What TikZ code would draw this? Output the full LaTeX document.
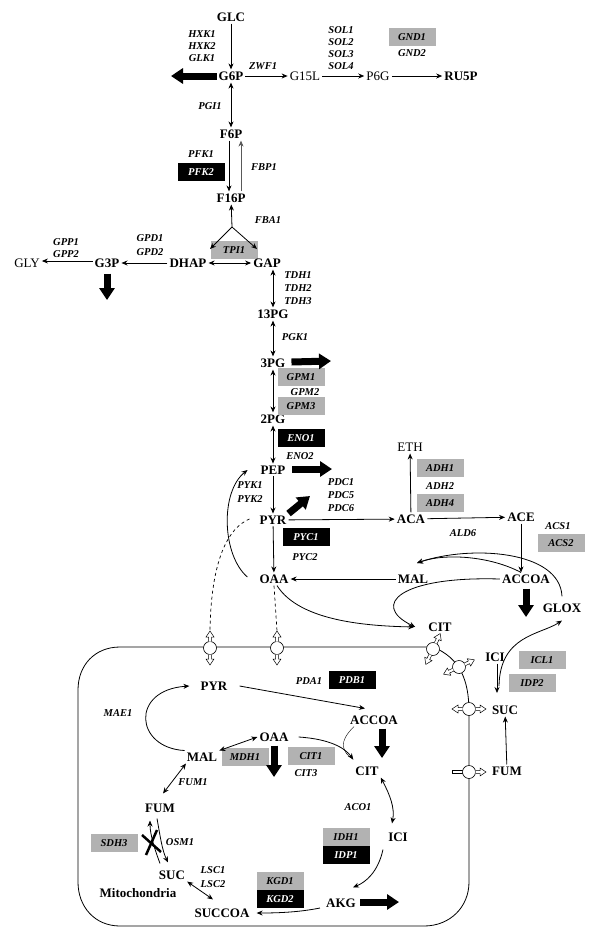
\documentclass[tikz,border=0pt]{standalone}
\usepackage{fontspec}
\setmainfont{Liberation Serif}
\usepackage{tikz}
\usetikzlibrary{arrows.meta,calc}

\tikzset{
    met/.style={font=\fontsize{13}{13}\selectfont\bfseries, inner sep=2pt},
    metplain/.style={font=\fontsize{13}{13}\selectfont, inner sep=2pt},
    gene/.style={font=\fontsize{10.5}{10.5}\selectfont\bfseries\itshape, inner sep=1pt},
    genegrey/.style={gene, fill=black!30, minimum width=47pt, minimum height=18pt},
    geneblack/.style={gene, fill=black, text=white, minimum width=47pt, minimum height=18pt},
    rx/.style={-{Stealth[length=6pt, width=5pt]}, line width=0.8pt},
    rev/.style={{Stealth[length=6pt, width=5pt]}-{Stealth[length=6pt, width=5pt]}, line width=0.8pt},
    flux/.style={line width=7pt, -{Triangle[length=12pt, width=15pt]}},
    pics/porter/.style={code={
        \draw [fill=white, line width=0.6pt] (0,0) circle (6.5);
        \foreach \ang in {0,180}
            \draw [fill=white, line width=0.5pt, rotate=\ang] (6.5,-1.5) -- (11,-1.5) -- (11,-4) -- (17,0) -- (11,4) -- (11,1.5) -- (6.5,1.5);
    }},
    pics/porterbar/.style={code={
        \draw [fill=white, line width=0.5pt] (-6,-1.5) rectangle (-17,1.5);
        \draw [fill=white, line width=0.6pt] (0,0) circle (6.5);
        \draw [fill=white, line width=0.5pt] (6.5,-1.5) -- (11,-1.5) -- (11,-4) -- (17,0) -- (11,4) -- (11,1.5) -- (6.5,1.5);
    }}
}

\begin{document}
\begin{tikzpicture}[x=1pt, y=-1pt]
    \useasboundingbox (0,0) rectangle (600,943);

    % Hexose and pentose phosphate
    \node [met] (glc) at (231,17) {GLC};
    \node [met] (g6p) at (231,76) {G6P};
    \node [metplain] (g15l) at (305,76) {G15L};
    \node [metplain] (p6g) at (378,76) {P6G};
    \node [met] (ru5p) at (461,76) {RU5P};
    \node [gene] (hxk1) at (202,34) {HXK1};
    \node [gene] (hxk2) at (202,46) {HXK2};
    \node [gene] (glk1) at (202,58) {GLK1};
    \node [gene] (zwf1) at (263,66) {ZWF1};
    \node [gene] (sol1) at (341,30) {SOL1};
    \node [gene] (sol2) at (341,42) {SOL2};
    \node [gene] (sol3) at (341,54) {SOL3};
    \node [gene] (sol4) at (341,66) {SOL4};
    \node [genegrey] (gnd1) at (412,37) {GND1};
    \node [gene] (gnd2) at (412,53) {GND2};
    \coordinate (g6pout) at (171,76);
    \draw [rx] (glc) -- (g6p);
    \draw [flux] (g6p) -- (g6pout);
    \draw [rx] (g6p) -- (g15l);
    \draw [rx] (g15l) -- (p6g);
    \draw [rx] (p6g) -- (ru5p);

    % Upper glycolysis
    \node [met] (f6p) at (231,134) {F6P};
    \node [met] (f16p) at (231,198) {F16P};
    \node [gene] (pgi1) at (210,106) {PGI1};
    \node [gene] (pfk1) at (201,154) {PFK1};
    \node [geneblack] (pfk2) at (201,172) {PFK2};
    \node [gene] (fbp1) at (264,167) {FBP1};
    \draw [rev] (g6p) -- (f6p);
    \draw [rx] ([shift={(-2,0)}]f6p.south) -- ([shift={(-2,0)}]f16p.north);
    \draw [rx, black!65] ([shift={(10,0)}]f16p.north) -- ([shift={(10,0)}]f6p.south);

    \node [gene] (fba1) at (268,220) {FBA1};
    \node [genegrey] (tpi1) at (234,250) {TPI1};
    \node [met] (dhap) at (188,263) {DHAP};
    \node [met] (gap) at (267,263) {GAP};
    \coordinate (fba) at (232,227);
    \coordinate (fbal) at (210,249);
    \coordinate (fbar) at (257,249);
    \draw [rx] (fba) -- (f16p);
    \draw [rx] (fba) -- (fbal);
    \draw [rx] (fba) -- (fbar);
    \draw [rev] (dhap) -- (gap);

    % Glycerol
    \node [met] (g3p) at (107,263) {G3P};
    \node [metplain] (gly) at (27,263) {GLY};
    \node [gene] (gpd1) at (150,238) {GPD1};
    \node [gene] (gpd2) at (150,252) {GPD2};
    \node [gene] (gpp1) at (66,242) {GPP1};
    \node [gene] (gpp2) at (66,254) {GPP2};
    \coordinate (g3pout) at (107,300);
    \draw [rx] (dhap) -- (g3p);
    \draw [rx] ([shift={(0,-2)}]g3p.west) -- ([shift={(0,-2)}]gly.east);
    \draw [flux] ([shift={(0,4)}]g3p.south) -- (g3pout);

    % Lower glycolysis
    \node [met] (pg13) at (273,314) {13PG};
    \node [met] (pg3) at (273,363) {3PG};
    \node [met] (pg2) at (273,419) {2PG};
    \node [met] (pep) at (273,470) {PEP};
    \node [met] (pyr) at (273,520) {PYR};
    \node [gene] (tdh1) at (298,275) {TDH1};
    \node [gene] (tdh2) at (298,288) {TDH2};
    \node [gene] (tdh3) at (298,301) {TDH3};
    \node [gene] (pgk1) at (295,337) {PGK1};
    \node [genegrey] (gpm1) at (301,377) {GPM1};
    \node [gene] (gpm2) at (305,392) {GPM2};
    \node [genegrey] (gpm3) at (301,406) {GPM3};
    \node [geneblack] (eno1) at (301,438) {ENO1};
    \node [gene] (eno2) at (300,456) {ENO2};
    \node [gene] (pyk1) at (250,485) {PYK1};
    \node [gene] (pyk2) at (250,499) {PYK2};
    \coordinate (pg3out) at (331,361);
    \coordinate (pepout) at (332,469);
    \coordinate (pyrout) at (310,496);
    \draw [rev] (pg13.north |- gap.south) -- (pg13);
    \draw [rev] (pg13) -- (pg3);
    \draw [rev] (pg3) -- (pg2);
    \draw [rev] (pg2) -- (pep);
    \draw [rx] (pep) -- (pyr);
    \draw [flux] ([shift={(4,-1)}]pg3.east) -- (pg3out);
    \draw [flux] ([shift={(5,-1)}]pep.east) -- (pepout);
    \draw [flux] (pyr.north east) -- (pyrout);

    % Fermentation
    \node [gene] (pdc1) at (341,482) {PDC1};
    \node [gene] (pdc5) at (341,495) {PDC5};
    \node [gene] (pdc6) at (341,508) {PDC6};
    \node [met] (aca) at (411,519) {ACA};
    \node [metplain] (eth) at (410,447) {ETH};
    \node [met] (ace) at (521,517) {ACE};
    \node [genegrey] (adh1) at (440,468) {ADH1};
    \node [gene] (adh2) at (440,486) {ADH2};
    \node [genegrey] (adh4) at (440,503) {ADH4};
    \node [gene] (ald6) at (463,533) {ALD6};
    \node [gene] (acs1) at (558,526) {ACS1};
    \node [genegrey] (acs2) at (561,543) {ACS2};
    \draw [rx] (pyr) -- (aca);
    \draw [rx] (aca) -- (eth);
    \draw [rx] (aca) -- (ace);

    % Cytosolic OAA, MAL and glyoxylate shunt
    \node [met] (accoa) at (526,579) {ACCOA};
    \node [met] (mal) at (413,579) {MAL};
    \node [met] (oaa) at (274,579) {OAA};
    \node [met] (glox) at (562,608) {GLOX};
    \node [met] (cit) at (440,627) {CIT};
    \node [geneblack] (pyc1) at (306,537) {PYC1};
    \node [gene] (pyc2) at (305,557) {PYC2};
    \coordinate (malin) at (417,563);
    \coordinate (accoaout) at (526,617);
    \draw [rx] (ace) -- (ace |- accoa.north);
    \draw [rx] (pyr) -- (oaa);
    \draw [rx] (mal) -- (oaa);
    \draw [rx] ([shift={(-10,-2)}]oaa.west) .. controls (222,555) and (220,492) .. ([shift={(-11,0)}]pep.west);
    \draw [rx] ([shift={(3,0)}]oaa.south) .. controls (300,622) and (370,626) .. ([shift={(-12,0)}]cit.west);
    \draw [rx] (accoa.west) .. controls (400,576) and (370,605) .. ([shift={(-11,0)}]cit.west);
    \draw [rx] ([shift={(-5,0)}]accoa.north) .. controls (490,556) and (445,553) .. (malin);
    \draw [rx] ([shift={(0,-5)}]glox.north) .. controls (560,550) and (470,545) .. (malin);
    \draw [flux] ([shift={(0,3)}]accoa.south) -- (accoaout);

    \node [met] (ici) at (495,657) {ICI};
    \node [met] (suc) at (505,710) {SUC};
    \node [met] (fum) at (507,771) {FUM};
    \node [genegrey] (icl1) at (542,660) {ICL1};
    \node [genegrey] (idp2) at (532,683) {IDP2};
    \coordinate (iclsplit) at (497,693);
    \coordinate (iclfork) at (499,686);
    \draw [rx] ([shift={(2,0)}]ici.south) -- (iclsplit);
    \draw [rx] (iclfork) .. controls (500,635) and (540,635) .. ([shift={(0,6)}]glox.south);
    \draw [rx] (fum) -- (suc);

    % Mitochondrial membrane
    \draw [line width=0.8pt] (433,647) -- (120,647) .. controls (95,647) and (78,665) .. (78,690) -- (78,882)
        .. controls (78,907) and (95,926) .. (120,926) -- (424,926) .. controls (450,926) and (469,907) .. (469,882)
        -- (469,712) .. controls (469,680) and (460,658) .. (433,647);
    \coordinate (porta) at (210,648);
    \coordinate (portb) at (277,648);
    \draw [dashed, line width=0.7pt] ([shift={(-8,-1)}]pyr.west) .. controls (228,528) and (211,560) .. ($(porta)+(0,-17)$);
    \draw [dashed, line width=0.7pt] (oaa.south) -- ($(portb)+(0,-17)$);
    \pic [rotate=90] at (porta) {porter};
    \pic [rotate=90] at (portb) {porter};
    \pic [rotate=65] at (433,649) {porter};
    \pic [rotate=25] at (459,667) {porter};
    \pic at (469,709) {porter};
    \pic at (469,772) {porterbar};

    % Mitochondria
    \node [met] (mpyr) at (214,686) {PYR};
    \node [met] (maccoa) at (374,720) {ACCOA};
    \node [met] (moaa) at (274,737) {OAA};
    \node [met] (mmal) at (202,757) {MAL};
    \node [met] (mcit) at (367,771) {CIT};
    \node [met] (mici) at (398,837) {ICI};
    \node [met] (makg) at (341,903) {AKG};
    \node [met] (msuccoa) at (222,913) {SUCCOA};
    \node [met] (msuc) at (172,875) {SUC};
    \node [met] (mfum) at (160,808) {FUM};
    \node [met] (mito) at (138,893) {Mitochondria};
    \node [gene] (mae1) at (118,713) {MAE1};
    \node [gene] (pda1) at (309,681) {PDA1};
    \node [geneblack] (pdb1) at (352,680) {PDB1};
    \node [genegrey] (mdh1) at (245,757) {MDH1};
    \node [genegrey] (cit1) at (311,756) {CIT1};
    \node [gene] (cit3) at (306,773) {CIT3};
    \node [gene] (fum1) at (193,782) {FUM1};
    \node [genegrey] (sdh3) at (114,843) {SDH3};
    \node [gene] (osm1) at (180,842) {OSM1};
    \node [gene] (lsc1) at (213,870) {LSC1};
    \node [gene] (lsc2) at (213,884) {LSC2};
    \node [gene] (aco1) at (358,807) {ACO1};
    \node [genegrey] (idh1) at (346,837) {IDH1};
    \node [geneblack] (idp1) at (346,855) {IDP1};
    \node [genegrey] (kgd1) at (280,881) {KGD1};
    \node [geneblack] (kgd2) at (280,899) {KGD2};
    \coordinate (moaaout) at (274,777);
    \coordinate (maccoaout) at (382,758);
    \coordinate (makgout) at (399,902);
    \coordinate (sdhx) at (152,843);

    \draw [rx] (mmal.north west) .. controls (135,748) and (130,690) .. ([shift={(-9,0)}]mpyr.west);
    \draw [rx] ([shift={(10,0)}]mpyr.east) -- ([shift={(-9,-5)}]maccoa.north);
    \draw [rev] (mmal.north east) -- (moaa.west);
    \draw [flux] ([shift={(0,2)}]moaa.south) -- (moaaout);
    \draw [flux] ([shift={(8,2)}]maccoa.south) -- (maccoaout);
    \draw [rx] ([shift={(8,0)}]moaa.east) .. controls (330,739) and (345,748) .. ([shift={(0,-5)}]mcit.north west);
    \draw ([shift={(-20,0)}]maccoa.south) .. controls (338,742) and (342,752) .. ([shift={(0,-5)}]mcit.north west);
    \draw [rev] (mcit.south east) .. controls (390,795) and (395,808) .. ([shift={(-6,-7)}]mici.north);
    \draw [rx] ([shift={(-15,6)}]mici.south) .. controls (378,872) and (366,882) .. ([shift={(12,-9)}]makg.north);
    \draw [flux] ([shift={(2,-1)}]makg.east) -- (makgout);
    \draw [rx] ([shift={(-4,5)}]makg.west) .. controls (300,912) and (280,913) .. ([shift={(5,0)}]msuccoa.east);
    \draw [rev] (msuc.south east) -- ([shift={(-9,-7)}]msuccoa.north);
    \draw [rev] ([shift={(3,-8)}]mfum.north) -- ([shift={(-16,0)}]mmal.south);
    \draw [rx] ([shift={(-12,-5)}]msuc.north) .. controls (155,850) and (150,835) .. ([shift={(-10,6)}]mfum.south);
    \draw [rx] ([shift={(-3,4)}]mfum.south) .. controls (160,835) and (162,850) .. ([shift={(-4,-6)}]msuc.north);
    \draw [line width=2.5pt] ($(sdhx)+(-10,-8)$) -- ($(sdhx)+(9,9)$);
    \draw [line width=2.5pt] ($(sdhx)+(-6,12)$) -- ($(sdhx)+(5,-13)$);
\end{tikzpicture}
\end{document}
